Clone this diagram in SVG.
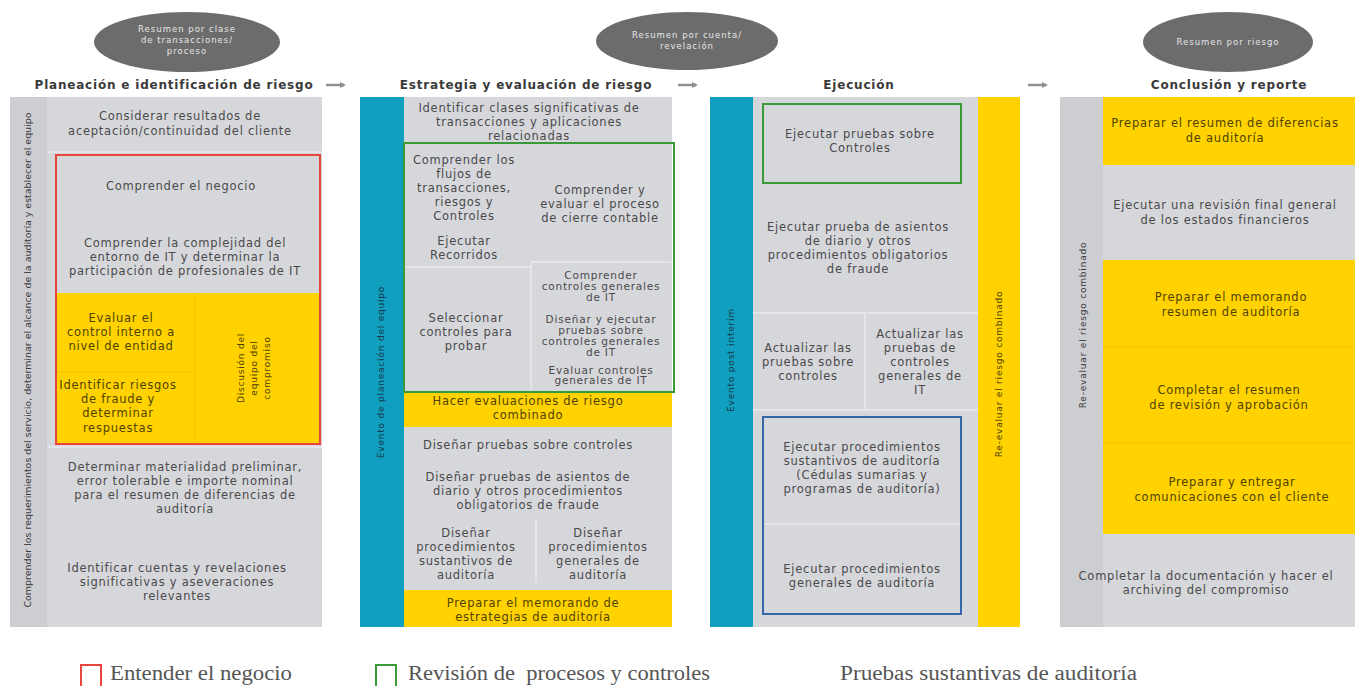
<svg xmlns="http://www.w3.org/2000/svg" width="1358" height="686" viewBox="0 0 1358 686">
<defs>
<style>
.t{font-family:"DejaVu Sans","Liberation Sans",sans-serif;font-size:11.5px;letter-spacing:0.75px;fill:#4a4a4a;text-anchor:middle}
.ty{font-family:"DejaVu Sans","Liberation Sans",sans-serif;font-size:11.5px;letter-spacing:0.75px;fill:#4f4200;text-anchor:middle}
.ts{font-family:"DejaVu Sans","Liberation Sans",sans-serif;font-size:10.5px;letter-spacing:0.8px;fill:#4a4a4a;text-anchor:middle}
.tv{font-family:"DejaVu Sans","Liberation Sans",sans-serif;font-size:9px;letter-spacing:0.8px;fill:#3a3a3a;text-anchor:middle}
.h{font-family:"DejaVu Sans","Liberation Sans",sans-serif;font-size:12px;letter-spacing:0.8px;font-weight:bold;fill:#3a3a3a;text-anchor:middle}
.e{font-family:"DejaVu Sans","Liberation Sans",sans-serif;font-size:8.5px;letter-spacing:1px;fill:#e6e6e6;text-anchor:middle}
.lg{font-family:"Liberation Serif",serif;font-size:20px;fill:#555}
.g{fill:#d6d7db}
.gs{fill:#cdced2}
.y{fill:#ffd200}
.tl{fill:#109fbf}
.sep{stroke:#e9eaec;stroke-width:1.5;fill:none}
.sepy{stroke:#eec400;stroke-width:1;fill:none}
.ell{fill:#6c6c6c}
.arr{stroke:#909090;stroke-width:2.5;fill:none}
</style>
<marker id="ah" markerWidth="6" markerHeight="6" refX="4" refY="3" orient="auto" markerUnits="userSpaceOnUse"><path d="M0,0 L6,3 L0,6 Z" fill="#909090"/></marker>
</defs>

<g id="summaries">
<g id="ell1"><ellipse class="ell" cx="187" cy="42" rx="93" ry="30"/>
<text class="e" x="187" y="32">Resumen por clase</text><text class="e" x="187" y="43">de transacciones/</text><text class="e" x="187" y="54">proceso</text></g>
<g id="ell2"><ellipse class="ell" cx="687" cy="41" rx="91" ry="29"/>
<text class="e" x="687" y="38">Resumen por cuenta/</text><text class="e" x="687" y="49">revelación</text></g>
<g id="ell3"><ellipse class="ell" cx="1228" cy="42" rx="85" ry="30"/>
<text class="e" x="1228" y="45">Resumen por riesgo</text></g>
</g>

<g id="headers">
<text class="h" x="174" y="89">Planeación e identificación de riesgo</text>
<text class="h" x="526" y="89">Estrategia y evaluación de riesgo</text>
<text class="h" x="859" y="89">Ejecución</text>
<text class="h" x="1229" y="89">Conclusión y reporte</text>
</g>

<g id="connectors">
<line class="arr" x1="326" y1="85" x2="344" y2="85" marker-end="url(#ah)"/>
<line class="arr" x1="678" y1="85" x2="696" y2="85" marker-end="url(#ah)"/>
<line class="arr" x1="1028" y1="85" x2="1046" y2="85" marker-end="url(#ah)"/>
</g>

<g id="col1">
<rect class="gs" x="10" y="97" width="37" height="530"/>
<rect class="g" x="47" y="97" width="275" height="530"/>
<rect class="y" x="56" y="293" width="264" height="151"/>
<line class="sepy" x1="195" y1="293" x2="195" y2="444"/>
<line class="sepy" x1="56" y1="372" x2="195" y2="372"/>
<line class="sep" x1="47" y1="152" x2="322" y2="152"/>
<line class="sep" x1="47" y1="447" x2="322" y2="447"/>
<text class="tv" transform="translate(31,360) rotate(-90)" textLength="495" lengthAdjust="spacingAndGlyphs" style="letter-spacing:0">Comprender los requerimientos del servicio, determinar el alcance de la auditoría y establecer el equipo</text>
<text class="t" x="180" y="120">Considerar resultados de</text>
<text class="t" x="180" y="135">aceptación/continuidad del cliente</text>
<text class="t" x="181" y="190">Comprender el negocio</text>
<text class="t" x="185" y="247">Comprender la complejidad del</text>
<text class="t" x="185" y="261">entorno de IT y determinar la</text>
<text class="t" x="185" y="275">participación de profesionales de IT</text>
<text class="ty" x="121" y="322">Evaluar el</text>
<text class="ty" x="121" y="336">control interno a</text>
<text class="ty" x="121" y="350">nivel de entidad</text>
<text class="ty" x="118" y="389">Identificar riesgos</text>
<text class="ty" x="118" y="403">de fraude y</text>
<text class="ty" x="118" y="417">determinar</text>
<text class="ty" x="118" y="432">respuestas</text>
<g transform="translate(254,368) rotate(-90)">
<text class="tv" x="0" y="-10" style="fill:#4f4200">Discusión del</text>
<text class="tv" x="0" y="3" style="fill:#4f4200">equipo del</text>
<text class="tv" x="0" y="16" style="fill:#4f4200">compromiso</text>
</g>
<rect x="56" y="155" width="264" height="289" fill="none" stroke="#e8463c" stroke-width="2"/>
<text class="t" x="185" y="471">Determinar materialidad preliminar,</text>
<text class="t" x="185" y="485">error tolerable e importe nominal</text>
<text class="t" x="185" y="499">para el resumen de diferencias de</text>
<text class="t" x="185" y="513">auditoría</text>
<text class="t" x="177" y="572">Identificar cuentas y revelaciones</text>
<text class="t" x="177" y="586">significativas y aseveraciones</text>
<text class="t" x="177" y="600">relevantes</text>
</g>

<g id="col2">
<rect class="tl" x="360" y="97" width="44" height="530"/>
<rect class="g" x="404" y="97" width="268" height="530"/>
<rect class="y" x="404" y="392" width="268" height="35"/>
<rect class="y" x="404" y="590" width="268" height="37"/>
<line class="sep" x1="406" y1="267" x2="530" y2="267"/>
<line class="sep" x1="531" y1="262" x2="671" y2="262"/>
<line class="sep" x1="531" y1="262" x2="531" y2="390"/>
<line class="sep" x1="536" y1="520" x2="536" y2="582"/>
<text class="tv" transform="translate(384,372) rotate(-90)" style="fill:#163a4c">Evento de planeación del equipo</text>
<text class="t" x="529" y="112">Identificar clases significativas de</text>
<text class="t" x="529" y="126">transacciones y aplicaciones</text>
<text class="t" x="529" y="140">relacionadas</text>
<text class="t" x="464" y="164">Comprender los</text>
<text class="t" x="464" y="178">flujos de</text>
<text class="t" x="464" y="192">transacciones,</text>
<text class="t" x="464" y="206">riesgos y</text>
<text class="t" x="464" y="220">Controles</text>
<text class="t" x="464" y="245">Ejecutar</text>
<text class="t" x="464" y="259">Recorridos</text>
<text class="t" x="600" y="194">Comprender y</text>
<text class="t" x="600" y="208">evaluar el proceso</text>
<text class="t" x="600" y="222">de cierre contable</text>
<text class="t" x="466" y="322">Seleccionar</text>
<text class="t" x="466" y="336">controles para</text>
<text class="t" x="466" y="350">probar</text>
<text class="ts" x="601" y="279">Comprender</text>
<text class="ts" x="601" y="290">controles generales</text>
<text class="ts" x="601" y="301">de IT</text>
<text class="ts" x="601" y="323">Diseñar y ejecutar</text>
<text class="ts" x="601" y="334">pruebas sobre</text>
<text class="ts" x="601" y="345">controles generales</text>
<text class="ts" x="601" y="356">de IT</text>
<text class="ts" x="601" y="374">Evaluar controles</text>
<text class="ts" x="601" y="384">generales de IT</text>
<rect x="404" y="143" width="270" height="249" fill="none" stroke="#3a9a3a" stroke-width="2"/>
<text class="ty" x="528" y="405">Hacer evaluaciones de riesgo</text>
<text class="ty" x="528" y="419">combinado</text>
<text class="t" x="528" y="449">Diseñar pruebas sobre controles</text>
<text class="t" x="528" y="481">Diseñar pruebas de asientos de</text>
<text class="t" x="528" y="495">diario y otros procedimientos</text>
<text class="t" x="528" y="509">obligatorios de fraude</text>
<text class="t" x="466" y="537">Diseñar</text>
<text class="t" x="466" y="551">procedimientos</text>
<text class="t" x="466" y="565">sustantivos de</text>
<text class="t" x="466" y="579">auditoría</text>
<text class="t" x="598" y="537">Diseñar</text>
<text class="t" x="598" y="551">procedimientos</text>
<text class="t" x="598" y="565">generales de</text>
<text class="t" x="598" y="579">auditoría</text>
<text class="ty" x="533" y="607">Preparar el memorando de</text>
<text class="ty" x="533" y="621">estrategias de auditoría</text>
</g>

<g id="col3">
<rect class="tl" x="710" y="97" width="43" height="530"/>
<rect class="g" x="753" y="97" width="225" height="530"/>
<rect class="y" x="978" y="97" width="42" height="530"/>
<line class="sep" x1="753" y1="313" x2="978" y2="313"/>
<line class="sep" x1="865" y1="313" x2="865" y2="410"/>
<line class="sep" x1="753" y1="410" x2="978" y2="410"/>
<line class="sep" x1="765" y1="524" x2="960" y2="524"/>
<text class="tv" transform="translate(734,360) rotate(-90)" style="fill:#163a4c">Evento post interim</text>
<text class="tv" transform="translate(1002,374) rotate(-90)" style="fill:#4f4200">Re-evaluar el riesgo combinado</text>
<rect x="763" y="104" width="198" height="79" fill="none" stroke="#3a9a3a" stroke-width="2"/>
<text class="t" x="860" y="138">Ejecutar pruebas sobre</text>
<text class="t" x="860" y="152">Controles</text>
<text class="t" x="858" y="231">Ejecutar prueba de asientos</text>
<text class="t" x="858" y="245">de diario y otros</text>
<text class="t" x="858" y="259">procedimientos obligatorios</text>
<text class="t" x="858" y="273">de fraude</text>
<text class="t" x="808" y="352">Actualizar las</text>
<text class="t" x="808" y="366">pruebas sobre</text>
<text class="t" x="808" y="380">controles</text>
<text class="t" x="920" y="338">Actualizar las</text>
<text class="t" x="920" y="352">pruebas de</text>
<text class="t" x="920" y="366">controles</text>
<text class="t" x="920" y="380">generales de</text>
<text class="t" x="920" y="394">IT</text>
<rect x="763" y="417" width="198" height="197" fill="none" stroke="#3466a8" stroke-width="2"/>
<text class="t" x="862" y="451">Ejecutar procedimientos</text>
<text class="t" x="862" y="465">sustantivos de auditoría</text>
<text class="t" x="862" y="479">(Cédulas sumarias y</text>
<text class="t" x="862" y="493">programas de auditoría)</text>
<text class="t" x="862" y="573">Ejecutar procedimientos</text>
<text class="t" x="862" y="587">generales de auditoría</text>
</g>

<g id="col4">
<rect class="gs" x="1060" y="97" width="43" height="530"/>
<rect class="g" x="1103" y="97" width="252" height="530"/>
<rect class="y" x="1103" y="97" width="252" height="68"/>
<rect class="y" x="1103" y="260" width="252" height="274"/>
<line class="sepy" x1="1103" y1="347" x2="1355" y2="347"/>
<line class="sepy" x1="1103" y1="443" x2="1355" y2="443"/>
<text class="tv" transform="translate(1086,325) rotate(-90)">Re-evaluar el riesgo combinado</text>
<text class="ty" x="1225" y="127">Preparar el resumen de diferencias</text>
<text class="ty" x="1225" y="142">de auditoría</text>
<text class="t" x="1225" y="209">Ejecutar una revisión final general</text>
<text class="t" x="1225" y="224">de los estados financieros</text>
<text class="ty" x="1231" y="301">Preparar el memorando</text>
<text class="ty" x="1231" y="316">resumen de auditoría</text>
<text class="ty" x="1229" y="394">Completar el resumen</text>
<text class="ty" x="1229" y="409">de revisión y aprobación</text>
<text class="ty" x="1232" y="486">Preparar y entregar</text>
<text class="ty" x="1232" y="501">comunicaciones con el cliente</text>
<text class="t" x="1206" y="580">Completar la documentación y hacer el</text>
<text class="t" x="1206" y="594">archiving del compromiso</text>
</g>

<g id="legend">
<rect x="81" y="665" width="20" height="22" fill="none" stroke="#e8463c" stroke-width="2"/>
<text class="lg" x="110" y="680" textLength="182" lengthAdjust="spacingAndGlyphs">Entender el negocio</text>
<rect x="376" y="665" width="20" height="22" fill="none" stroke="#3a9a3a" stroke-width="2"/>
<text class="lg" x="408" y="680" textLength="302" lengthAdjust="spacingAndGlyphs" xml:space="preserve">Revisión de  procesos y controles</text>
<text class="lg" x="840" y="680" textLength="297" lengthAdjust="spacingAndGlyphs">Pruebas sustantivas de auditoría</text>
</g>
</svg>
